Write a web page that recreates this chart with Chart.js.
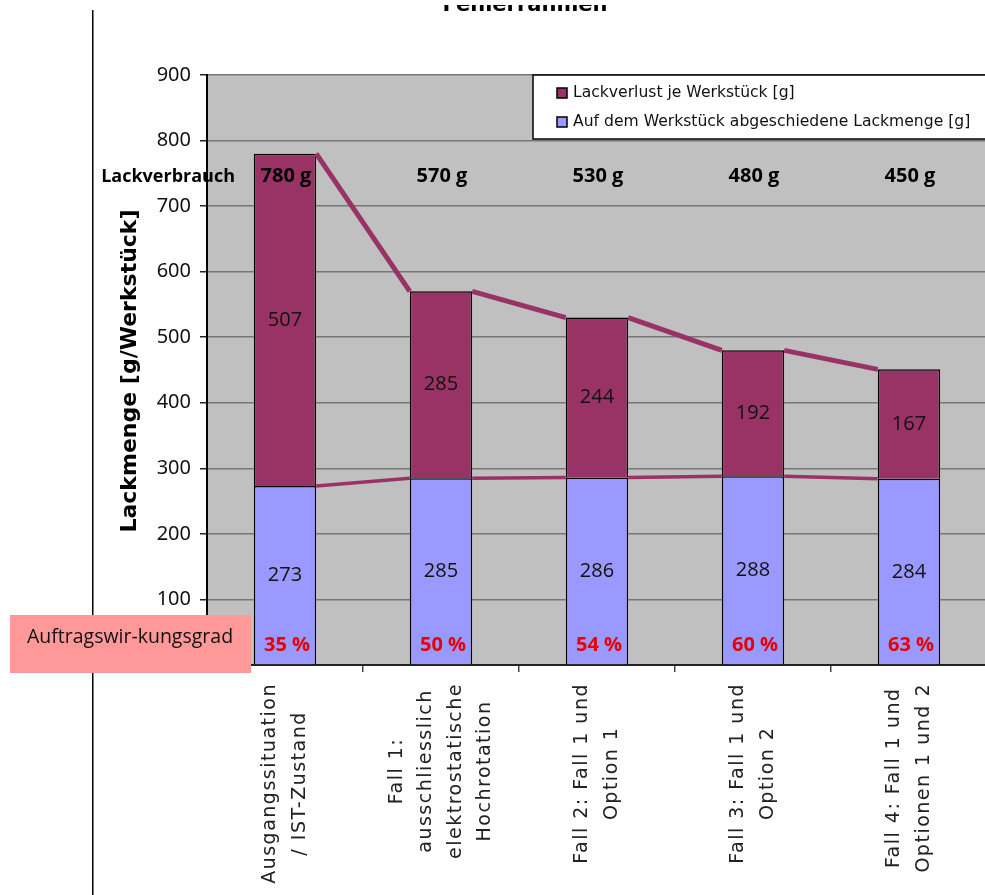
<!DOCTYPE html>
<html lang="de">
<head>
<meta charset="UTF-8">
<title>Lackmenge je Werkstück</title>
<script src="https://cdn.jsdelivr.net/npm/chart.js@4"></script>
<style>
  html, body { margin: 0; padding: 0; background: #fff; overflow: hidden; }
  #wrap { position: relative; width: 985px; height: 895px; overflow: hidden; }
  canvas { position: absolute; left: 0; top: 0; }
</style>
</head>
<body>
<div id="wrap"><canvas id="chart" width="990" height="895"></canvas></div>
<script>
// Kategorien (mehrzeilig)
const categories = [
  ['Ausgangssituation', '/ IST-Zustand'],
  ['Fall 1:', 'ausschliesslich', 'elektrostatische', 'Hochrotation'],
  ['Fall 2: Fall 1 und', 'Option 1'],
  ['Fall 3: Fall 1 und', 'Option 2'],
  ['Fall 4: Fall 1 und', 'Optionen 1 und 2']
];
const deposited = [273, 285, 286, 288, 284];   // abgeschiedene Lackmenge [g]
const loss = [507, 285, 244, 192, 167];        // Lackverlust [g]
const totals = [780, 570, 530, 480, 450];      // Lackverbrauch [g]
const efficiency = [35, 50, 54, 60, 63];       // Auftragswirkungsgrad [%]
const yTicks = [0, 100, 200, 300, 400, 500, 600, 700, 800, 900];

const seriesNames = ['Auf dem Werkstück abgeschiedene Lackmenge [g]', 'Lackverlust je Werkstück [g]'];
const BLUE = '#9999ff';
const MAROON = '#993366';

const decor = {
  id: 'decor',
  beforeDraw(chart) {
    const { ctx, chartArea: a } = chart;
    ctx.save();
    ctx.fillStyle = '#c0c0c0';
    ctx.fillRect(a.left, a.top, a.right - a.left, a.bottom - a.top);
    ctx.restore();
  },
  afterDatasetsDraw(chart) {
    const { ctx } = chart;
    const y = chart.scales.y;
    ctx.save();

    // Verbindungslinien zwischen den Stapeln
    [[0, 3.5], [1, 5]].forEach(([ds, w]) => {
      const bars = chart.getDatasetMeta(ds).data;
      ctx.strokeStyle = MAROON;
      ctx.lineWidth = w;
      ctx.beginPath();
      for (let i = 0; i < bars.length - 1; i++) {
        const a = bars[i], b = bars[i + 1];
        ctx.moveTo(a.x + a.width / 2, a.y);
        ctx.lineTo(b.x - b.width / 2, b.y);
      }
      ctx.stroke();
    });

    // Werte in den Segmenten
    ctx.fillStyle = '#111';
    ctx.font = '20px "Open Sans"';
    ctx.textAlign = 'center';
    ctx.textBaseline = 'middle';
    chart.getDatasetMeta(0).data.forEach((bar, i) => {
      ctx.fillText(String(deposited[i]), bar.x, y.getPixelForValue(deposited[i] / 2));
    });
    chart.getDatasetMeta(1).data.forEach((bar, i) => {
      ctx.fillText(String(loss[i]), bar.x, y.getPixelForValue(deposited[i] + loss[i] / 2));
    });

    // Auftragswirkungsgrad
    ctx.fillStyle = '#e60000';
    ctx.font = 'bold 20px "Open Sans"';
    chart.getDatasetMeta(0).data.forEach((bar, i) => {
      ctx.fillText(efficiency[i] + ' %', bar.x + 2, y.getPixelForValue(30));
    });

    // Lackverbrauch
    ctx.fillStyle = '#000';
    const ty = y.getPixelForValue(745);
    chart.getDatasetMeta(0).data.forEach((bar, i) => {
      ctx.fillText(totals[i] + ' g', bar.x + 1, ty);
    });
    ctx.font = 'bold 18px "Open Sans"';
    ctx.textAlign = 'right';
    ctx.fillText('Lackverbrauch', 235, ty);
    ctx.restore();
  },
  afterDraw(chart) {
    const { ctx } = chart;
    const x = chart.scales.x;
    ctx.save();

    // Kategoriebeschriftung, gedreht und zentriert
    ctx.fillStyle = '#222';
    ctx.font = '19px "DejaVu Sans"';
    ctx.letterSpacing = '1.5px';
    ctx.textAlign = 'center';
    ctx.textBaseline = 'middle';
    categories.forEach((lines, i) => {
      const cx = x.getPixelForValue(i);
      const maxW = Math.max(...lines.map(l => ctx.measureText(l).width));
      const cy = 683 + maxW / 2;
      const lh = 29.5;
      lines.forEach((l, k) => {
        const lx = cx + (k - (lines.length - 1) / 2) * lh;
        ctx.save();
        ctx.translate(lx, cy);
        ctx.rotate(-Math.PI / 2);
        ctx.fillText(l, 0, 0);
        ctx.restore();
      });
    });
    ctx.letterSpacing = '0px';

    // Achsentitel
    ctx.fillStyle = '#000';
    ctx.font = 'bold 22px "DejaVu Sans"';
    ctx.save();
    ctx.translate(130, 371);
    ctx.rotate(-Math.PI / 2);
    ctx.fillText('Lackmenge [g/Werkstück]', 0, 0);
    ctx.restore();

    // Titel, oben vom Rand angeschnitten
    ctx.save();
    ctx.beginPath();
    ctx.rect(0, 5, 985, 10);
    ctx.clip();
    ctx.font = 'bold 21px "DejaVu Sans"';
    ctx.textBaseline = 'alphabetic';
    ctx.fillText('Fehlerrahmen', 525, 11);
    ctx.restore();

    // Legende
    ctx.fillStyle = '#fff';
    ctx.fillRect(533, 75, 470, 64);
    ctx.strokeStyle = '#000';
    ctx.lineWidth = 1.5;
    ctx.strokeRect(533, 75, 470, 64);
    const items = [[seriesNames[1], MAROON, 93], [seriesNames[0], BLUE, 122]];
    ctx.font = '15.6px "DejaVu Sans"';
    ctx.textAlign = 'left';
    ctx.textBaseline = 'middle';
    items.forEach(([label, col, iy]) => {
      ctx.fillStyle = col;
      ctx.fillRect(557, iy - 5, 10, 10);
      ctx.strokeStyle = '#000';
      ctx.lineWidth = 1.5;
      ctx.strokeRect(557, iy - 5, 10, 10);
      ctx.fillStyle = '#111';
      ctx.fillText(label, 573, iy);
    });

    // senkrechte Trennlinie links
    ctx.fillStyle = '#000';
    ctx.fillRect(92, 10, 1.5, 885);

    // Kasten Auftragswirkungsgrad
    ctx.fillStyle = '#ff9999';
    ctx.fillRect(10, 615, 241, 58);
    ctx.fillStyle = '#111';
    ctx.font = '19.5px "Open Sans"';
    ctx.textAlign = 'center';
    ctx.fillText('Auftragswir-kungsgrad', 130, 637);
    ctx.restore();
  }
};

new Chart(document.getElementById('chart'), {
  type: 'bar',
  data: {
    labels: categories,
    datasets: [
      { label: seriesNames[0], data: deposited, backgroundColor: BLUE, borderColor: '#000', borderWidth: 1.5 },
      { label: seriesNames[1], data: loss, backgroundColor: MAROON, borderColor: '#000', borderWidth: 1.5 }
    ]
  },
  options: {
    responsive: false,
    animation: false,
    devicePixelRatio: 1,
    layout: { padding: { top: 75, right: 3, left: 0, bottom: 0 } },
    datasets: { bar: { categoryPercentage: 1, barPercentage: 0.4 } },
    plugins: { legend: { display: false }, tooltip: { enabled: false } },
    scales: {
      x: {
        stacked: true,
        grid: { offset: true, drawOnChartArea: false, tickLength: 7, color: '#444', lineWidth: 1.5 },
        border: { color: '#222', width: 2 },
        ticks: { display: false },
        afterFit(s) { s.height = 230; }
      },
      y: {
        stacked: true,
        min: 0,
        max: 900,
        afterBuildTicks(s) { s.ticks = yTicks.map(v => ({ value: v })); },
        grid: { color: '#767676', lineWidth: 1.5, tickLength: 7, tickColor: '#222' },
        border: { color: '#000', width: 2 },
        ticks: { padding: 9, color: '#111', font: { family: 'Noto Sans', size: 20 } },
        afterFit(s) { s.width = 207; }
      }
    }
  },
  plugins: [decor]
});
</script>
</body>
</html>
